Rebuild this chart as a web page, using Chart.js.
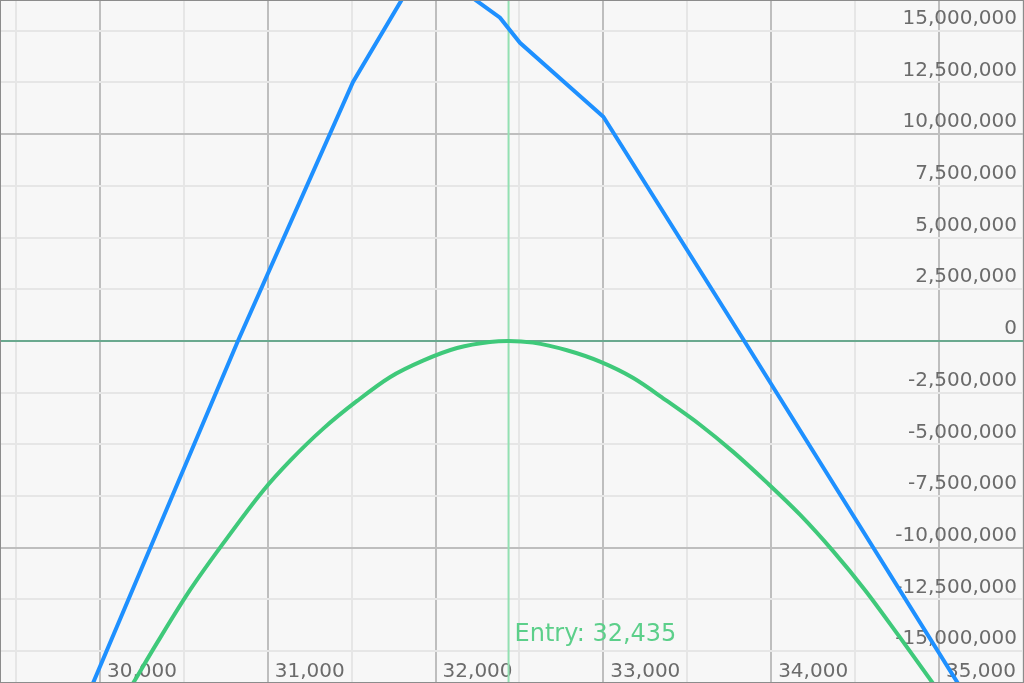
<!DOCTYPE html>
<html>
<head>
<meta charset="utf-8">
<script src="https://cdn.jsdelivr.net/npm/chart.js@4/dist/chart.umd.min.js"></script>
<style>
  html, body { margin: 0; padding: 0; background: #f7f7f7; }
  #wrap { width: 1024px; height: 683px; box-sizing: border-box; border: 1px solid #8c8c8c; position: relative; background: #f7f7f7; }
</style>
</head>
<body>
<div id="wrap"><canvas id="payoff"></canvas></div>
<script>
// visible window (price / P&L)
const xMin = 29410;
const xMax = 35501;
const yMin = -16490000;
const yMax = 16440000;
const entryPrice = 32435;

// gridlines / tick labels
const xTicks = [29500, 30000, 30500, 31000, 31500, 32000, 32500, 33000, 33500, 34000, 34500, 35000, 35500];
const yTicks = [-15000000, -12500000, -10000000, -7500000, -5000000, -2500000, 0,
    2500000, 5000000, 7500000, 10000000, 12500000, 15000000];

// expiry payoff (blue)
const expiryPrice = [29400, 29958, 30822, 31508, 31930, 32384, 32503, 33000, 33840, 35113, 35510];
const expiryPnl = [-27240000, -16550000, 0, 12530000, 18300000, 15630000, 14420000, 10840000, 0, -16550000, -21700000];

// current (T+0) P&L (green)
const nowPrice = [30100, 30197, 30340, 30536, 30733, 30971, 31132, 31329, 31532, 31728, 31925, 32128, 32324, 32435,
    32580, 32783, 32980, 33176, 33379, 33576, 33772, 33975, 34172, 34368, 34560, 34760, 34964, 35050];
const nowPnl = [-17860000, -16550000, -14600000, -12050000, -9800000, -7250000, -5800000, -4250000, -2900000, -1750000,
    -950000, -340000, -45000, 0, -80000, -450000, -1000000, -1780000, -2900000, -4050000, -5350000, -6850000,
    -8400000, -10150000, -12050000, -14250000, -16550000, -17500000];

function toPoints(xs, ys) {
    return xs.map((x, i) => ({ x: x, y: ys[i] }));
}

const fmt = (v) => Math.round(v).toLocaleString('en-US');

// vertical entry marker + its label
const entryLine = {
    id: 'entryLine',
    beforeDatasetsDraw(chart) {
        const ctx = chart.ctx;
        const area = chart.chartArea;
        const px = chart.scales.x.getPixelForValue(entryPrice);
        ctx.save();
        ctx.strokeStyle = '#93e0b2';
        ctx.lineWidth = 2;
        ctx.beginPath();
        ctx.moveTo(px, area.top);
        ctx.lineTo(px, area.bottom);
        ctx.stroke();
        ctx.fillStyle = '#5ccf8a';
        ctx.font = '24px "DejaVu Sans"';
        ctx.textAlign = 'left';
        ctx.textBaseline = 'middle';
        ctx.fillText('Entry: ' + fmt(entryPrice), px + 6, area.bottom - 47);
        ctx.restore();
    }
};

function flatAxis(scale) {
    if (scale.isHorizontal()) scale.height = 0; else scale.width = 0;
    scale.paddingTop = 0;
    scale.paddingBottom = 0;
    scale.paddingLeft = 0;
    scale.paddingRight = 0;
}

new Chart(document.getElementById('payoff'), {
    type: 'line',
    data: {
        datasets: [
            {
                label: 'Expiry',
                data: toPoints(expiryPrice, expiryPnl),
                borderColor: '#1e90ff',
                borderWidth: 4,
                pointRadius: 0,
                tension: 0,
            },
            {
                label: 'Now',
                data: toPoints(nowPrice, nowPnl),
                borderColor: '#3fc97a',
                borderWidth: 4,
                pointRadius: 0,
                cubicInterpolationMode: 'monotone',
            },
        ],
    },
    options: {
        responsive: true,
        maintainAspectRatio: false,
        animation: false,
        layout: { padding: 0 },
        plugins: {
            legend: { display: false },
            tooltip: { enabled: false },
        },
        scales: {
            x: {
                type: 'linear',
                position: 'bottom',
                min: xMin,
                max: xMax,
                afterBuildTicks: (scale) => { scale.ticks = xTicks.map((v) => ({ value: v })); },
                afterFit: flatAxis,
                border: { display: false },
                grid: {
                    drawTicks: false,
                    lineWidth: 2,
                    color: (c) => (c.tick && c.tick.value % 1000 === 0 ? '#bebebe' : '#e6e6e6'),
                },
                ticks: {
                    autoSkip: false,
                    maxRotation: 0,
                    mirror: true,
                    align: 'start',
                    labelOffset: 7,
                    padding: -2,
                    color: '#6b6b6b',
                    font: { family: 'DejaVu Sans', size: 20 },
                    callback: (v) => (v % 1000 === 0 ? fmt(v) : ''),
                },
            },
            y: {
                type: 'linear',
                position: 'right',
                min: yMin,
                max: yMax,
                afterBuildTicks: (scale) => { scale.ticks = yTicks.map((v) => ({ value: v })); },
                afterFit: flatAxis,
                border: { display: false },
                grid: {
                    drawTicks: false,
                    lineWidth: 2,
                    color: (c) => {
                        if (!c.tick) return '#e6e6e6';
                        if (c.tick.value === 0) return '#6aa98f';
                        return c.tick.value % 10000000 === 0 ? '#bebebe' : '#e6e6e6';
                    },
                },
                ticks: {
                    autoSkip: false,
                    mirror: true,
                    padding: -6,
                    labelOffset: -12,
                    color: '#6b6b6b',
                    font: { family: 'DejaVu Sans', size: 20 },
                    callback: (v) => fmt(v),
                },
            },
        },
    },
    plugins: [entryLine],
});
</script>
</body>
</html>
